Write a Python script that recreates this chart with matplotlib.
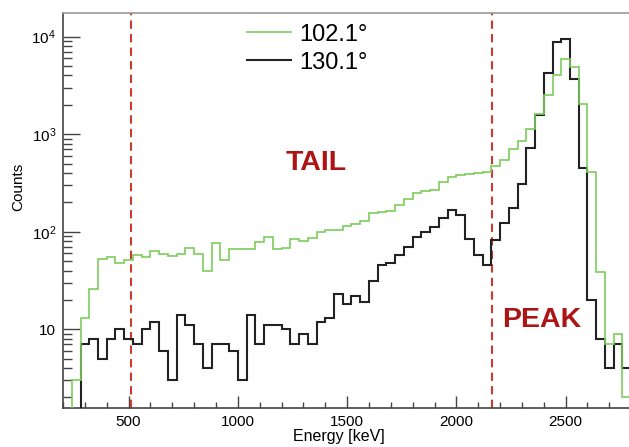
import matplotlib
matplotlib.use("Agg")
import matplotlib.pyplot as plt
import numpy as np
from matplotlib.ticker import MultipleLocator, LogLocator, FuncFormatter, NullFormatter
from matplotlib.lines import Line2D

plt.rcParams['font.family'] = ['Liberation Sans', 'DejaVu Sans']
plt.rcParams['mathtext.fontset'] = 'custom'
plt.rcParams['mathtext.rm'] = 'Liberation Sans'
plt.rcParams['mathtext.default'] = 'regular'

# 40 keV bins from 200 to 2800 keV
bin_edges = np.arange(200, 2801, 40)

counts_102 = [0, 3, 13, 26, 52, 55, 48, 51, 58, 55,
              64, 59, 57, 59, 68, 59, 40, 76, 51, 67,
              66, 66, 78, 88, 66, 68, 84, 81, 86, 99,
              104, 104, 115, 120, 130, 155, 160, 165, 188, 215,
              248, 262, 268, 320, 360, 380, 390, 400, 410, 470,
              545, 705, 845, 1120, 1620, 2530, 4060, 5880, 4930, 2060,
              405, 39, 7, 9, 2]

counts_130 = [0, 0, 7, 8, 5, 8, 10, 8, 7, 10,
              12, 6, 3, 14, 11, 7, 4, 7, 7, 6,
              3, 14, 7, 11, 11, 10, 7, 9, 7, 12,
              13, 23, 18, 22, 19, 31, 46, 48, 58, 69,
              88, 100, 113, 137, 167, 149, 84, 58, 46, 82,
              122, 174, 312, 720, 1580, 4230, 8900, 9420, 3660, 448,
              20, 8, 4, 7, 4]

series_labels = ["102.1°", "130.1°"]
cut_energies = [511, 2163]
region_names = ["TAIL", "PEAK"]
region_x = [1359, 2391]
region_y = [430, 10.6]

green = "#7ccd5c"
black = "#222222"
red_line = "#cc3a30"
red_text = "#ad1414"

fig = plt.figure(figsize=(6.29, 4.47), dpi=100)
ax = fig.add_axes([0.1002, 0.0872, 0.8998, 0.8844])

ax.stairs(counts_130, bin_edges, baseline=None, color=black, lw=1.5, zorder=3)
ax.stairs(counts_102, bin_edges, baseline=None, color=green, lw=1.2, zorder=4)

for e in cut_energies:
    ax.axvline(e, color=red_line, lw=1.5, ls=(0, (4, 2.5)), zorder=2)

for name, x, y in zip(region_names, region_x, region_y):
    ax.text(x, y, name, color=red_text, fontsize=20.5, fontweight='bold',
            ha='center', va='baseline')

ax.set_yscale('log')
ax.set_xlim(200, 2790)
ax.set_ylim(1.56, 17600)

ax.xaxis.set_major_locator(MultipleLocator(500))
ax.xaxis.set_minor_locator(MultipleLocator(100))
ax.yaxis.set_major_locator(LogLocator(base=10, numticks=10))
ax.yaxis.set_minor_locator(LogLocator(base=10, subs=np.arange(2, 10), numticks=20))
ax.yaxis.set_minor_formatter(NullFormatter())


def decade_label(v, pos):
    p = int(round(np.log10(v)))
    return "10" if p == 1 else "$10^{%d}$" % p


ax.yaxis.set_major_formatter(FuncFormatter(decade_label))

ax.tick_params(axis='both', which='both', direction='in', colors='#444444',
               labelcolor='black', labelsize=11, top=False, right=False)
ax.tick_params(axis='y', which='major', length=12, width=1, pad=5)
ax.tick_params(axis='y', which='minor', length=6.5, width=1)
ax.tick_params(axis='x', which='major', length=8.6, width=1, pad=5)
ax.tick_params(axis='x', which='minor', length=4.3, width=1)

for side in ['left', 'bottom']:
    ax.spines[side].set_color('#444444')
    ax.spines[side].set_linewidth(1.2)
ax.spines['top'].set_color('#999999')
ax.spines['top'].set_linewidth(1.2)
ax.spines['right'].set_visible(False)

ax.set_xlabel("Energy [keV]", fontsize=11.5)
ax.xaxis.set_label_coords(0.487, -0.052)
ax.set_ylabel("Counts", fontsize=11)
ax.yaxis.set_label_coords(-0.066, 0.56)

handles = [Line2D([], [], color=green, lw=1.2),
           Line2D([], [], color=black, lw=1.5)]
ax.legend(handles, series_labels, loc='upper left', bbox_to_anchor=(0.30, 1.008),
          frameon=False, fontsize=17, handlelength=1.85, handletextpad=0.35,
          labelspacing=0.25, borderaxespad=0.2)

fig.savefig("out.png", dpi=100)
